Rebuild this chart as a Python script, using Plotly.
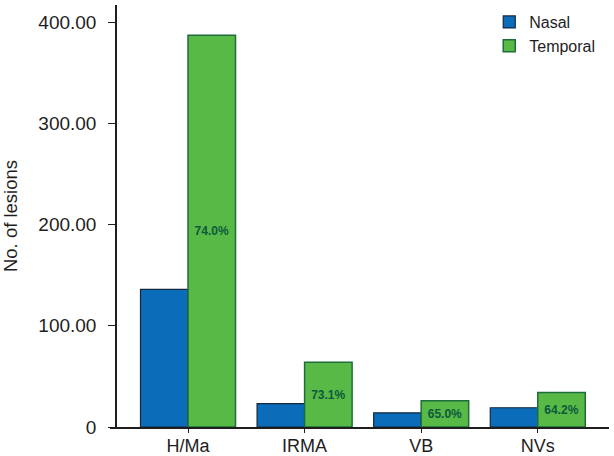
import plotly.graph_objects as go

categories = ['H/Ma', 'IRMA', 'VB', 'NVs']
nasal = [136, 23, 14, 19]
temporal = [387, 64, 26, 34]
temporal_pct = ['74.0%', '73.1%', '65.0%', '64.2%']

y_ticks = [0, 100, 200, 300, 400]
y_ticktext = ['0', '100.00', '200.00', '300.00', '400.00']

fig = go.Figure()
fig.add_trace(go.Bar(
    x=categories, y=nasal, name='Nasal',
    marker=dict(color='#0b6cb9', line=dict(color='#14283f', width=1.2)),
))
fig.add_trace(go.Bar(
    x=categories, y=temporal, name='Temporal',
    text=temporal_pct, textposition='inside', insidetextanchor='middle',
    textangle=0, constraintext='none',
    textfont=dict(family='Liberation Sans', size=12, color='#0d5a3c', weight='bold'),
    marker=dict(color='#58b947', line=dict(color='#1d6e3a', width=1.5)),
))

fig.update_layout(
    width=614, height=456,
    margin=dict(l=110, r=5, t=5, b=29, autoexpand=False),
    plot_bgcolor='white', paper_bgcolor='white',
    barmode='group', bargap=0.185, bargroupgap=0,
    font=dict(family='Liberation Sans', color='#1e1e1e'),
    xaxis=dict(
        range=[-0.669, 3.611], showline=True, linecolor='#1e1e1e', linewidth=1.5,
        ticks='outside', ticklen=4, tickcolor='#1e1e1e', ticklabelstandoff=-2,
        tickfont=dict(size=18), showgrid=False, zeroline=False, automargin=False,
    ),
    yaxis=dict(
        range=[0, 417], anchor='free', position=0.012,
        showline=True, linecolor='#1e1e1e', linewidth=1.5,
        tickvals=y_ticks, ticktext=y_ticktext, ticks='outside', ticklen=7,
        ticklabelstandoff=8,
        tickcolor='#1e1e1e', tickfont=dict(size=19), showgrid=False, zeroline=False,
        automargin=False,
        title=dict(text='No. of lesions', font=dict(size=18.5), standoff=15),
    ),
    legend=dict(
        x=0.76, y=1.0, xanchor='left', yanchor='top',
        font=dict(size=16), tracegroupgap=0, itemwidth=30,
        bgcolor='rgba(0,0,0,0)',
    ),
    showlegend=True,
)

# page has a default body margin; drop it so the figure sits at the corner
fig.write_html("out.html", config={'displayModeBar': False},
               post_script="document.body.style.margin='0';")
